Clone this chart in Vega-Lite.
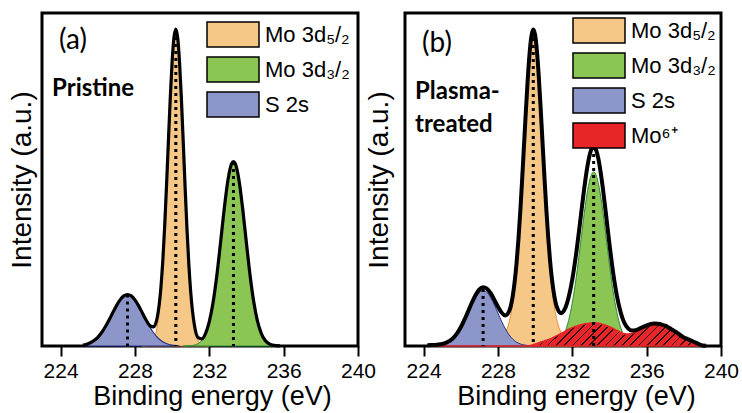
{
  "$schema": "https://vega.github.io/schema/vega-lite/v6.json",
  "padding": {"left": 6, "top": 11, "right": 2, "bottom": 0},
  "bounds": "flush",
  "spacing": 47,
  "background": "white",
  "datasets": {
    "a_o": [{"x":228.4,"y":0},{"x":228.6,"y":0.26},{"x":228.8,"y":1.38},{"x":229.0,"y":5.85},{"x":229.2,"y":19.78},{"x":229.4,"y":53.7},{"x":229.5,"y":81.3},{"x":229.6,"y":116.7},{"x":229.7,"y":158.3},{"x":229.8,"y":203.1},{"x":229.9,"y":246.6},{"x":230.0,"y":283.3},{"x":230.1,"y":307.9},{"x":230.2,"y":316.5},{"x":230.3,"y":307.9},{"x":230.4,"y":283.3},{"x":230.5,"y":246.6},{"x":230.6,"y":203.1},{"x":230.7,"y":158.3},{"x":230.8,"y":116.7},{"x":230.9,"y":81.3},{"x":231.0,"y":53.7},{"x":231.2,"y":19.78},{"x":231.4,"y":5.85},{"x":231.6,"y":1.38},{"x":231.8,"y":0.26},{"x":232.0,"y":0}],
    "a_g": [{"x":230.6,"y":0},{"x":230.8,"y":0.1},{"x":231.0,"y":0.32},{"x":231.2,"y":0.93},{"x":231.4,"y":2.42},{"x":231.6,"y":5.74},{"x":231.8,"y":12.4},{"x":232.0,"y":24.3},{"x":232.2,"y":43.23},{"x":232.4,"y":69.78},{"x":232.6,"y":102.5},{"x":232.8,"y":136.7},{"x":233.0,"y":165.6},{"x":233.2,"y":182.3},{"x":233.3,"y":184.5},{"x":233.4,"y":182.3},{"x":233.6,"y":165.6},{"x":233.8,"y":136.7},{"x":234.0,"y":102.5},{"x":234.2,"y":69.78},{"x":234.4,"y":43.23},{"x":234.6,"y":24.3},{"x":234.8,"y":12.4},{"x":235.0,"y":5.74},{"x":235.2,"y":2.42},{"x":235.4,"y":0.93},{"x":235.6,"y":0.32},{"x":235.8,"y":0}],
    "a_b": [{"x":225.4,"y":0},{"x":225.6,"y":3.22},{"x":225.8,"y":5.45},{"x":226.0,"y":8.73},{"x":226.2,"y":13.24},{"x":226.4,"y":18.98},{"x":226.6,"y":25.75},{"x":226.8,"y":33.05},{"x":227.0,"y":40.13},{"x":227.2,"y":46.09},{"x":227.4,"y":50.09},{"x":227.6,"y":51.5},{"x":227.8,"y":50.09},{"x":228.0,"y":46.09},{"x":228.2,"y":40.13},{"x":228.4,"y":33.05},{"x":228.6,"y":25.75},{"x":228.8,"y":18.98},{"x":229.0,"y":13.24},{"x":229.2,"y":8.73},{"x":229.4,"y":5.45},{"x":229.6,"y":3.22},{"x":229.8,"y":1.8},{"x":230.0,"y":0.95},{"x":230.2,"y":0.48},{"x":230.4,"y":0}],
    "a_env": [{"x":225.2,"y":0.95},{"x":225.4,"y":1.8},{"x":225.6,"y":3.22},{"x":225.8,"y":5.45},{"x":226.0,"y":8.73},{"x":226.2,"y":13.24},{"x":226.4,"y":18.98},{"x":226.6,"y":25.75},{"x":226.8,"y":33.05},{"x":227.0,"y":40.13},{"x":227.2,"y":46.09},{"x":227.4,"y":50.09},{"x":227.6,"y":51.5},{"x":227.8,"y":50.09},{"x":228.0,"y":46.09},{"x":228.2,"y":40.13},{"x":228.4,"y":33.09},{"x":228.6,"y":26.01},{"x":228.8,"y":20.36},{"x":229.0,"y":19.09},{"x":229.2,"y":28.51},{"x":229.4,"y":59.15},{"x":229.5,"y":85.5},{"x":229.6,"y":119.9},{"x":229.7,"y":160.7},{"x":229.8,"y":204.9},{"x":229.9,"y":247.9},{"x":230.0,"y":284.3},{"x":230.1,"y":308.6},{"x":230.2,"y":317.0},{"x":230.3,"y":308.2},{"x":230.4,"y":283.5},{"x":230.5,"y":246.8},{"x":230.6,"y":203.2},{"x":230.7,"y":158.4},{"x":230.8,"y":116.8},{"x":230.9,"y":81.5},{"x":231.0,"y":54.0},{"x":231.2,"y":20.7},{"x":231.4,"y":8.27},{"x":231.6,"y":7.12},{"x":231.8,"y":12.66},{"x":232.0,"y":24.34},{"x":232.2,"y":43.23},{"x":232.4,"y":69.78},{"x":232.6,"y":102.5},{"x":232.8,"y":136.7},{"x":233.0,"y":165.6},{"x":233.2,"y":182.3},{"x":233.3,"y":184.5},{"x":233.4,"y":182.3},{"x":233.6,"y":165.6},{"x":233.8,"y":136.7},{"x":234.0,"y":102.5},{"x":234.2,"y":69.78},{"x":234.4,"y":43.23},{"x":234.6,"y":24.3},{"x":234.8,"y":12.4},{"x":235.0,"y":5.74},{"x":235.2,"y":2.42},{"x":235.4,"y":0.93},{"x":235.6,"y":0.32},{"x":235.8,"y":0.1}],
    "a_pk": [{"x":227.6,"y":51.5},{"x":230.2,"y":316},{"x":233.3,"y":184}],
    "a_txt": [{"t":"(a)"}],
    "a_txt2": [{"t":"Pristine"}],
    "b_o": [{"x":227.4,"y":0},{"x":227.6,"y":4.3},{"x":227.8,"y":5.1},{"x":228.0,"y":6.4},{"x":228.2,"y":8.8},{"x":228.4,"y":13.5},{"x":228.6,"y":23.7},{"x":228.8,"y":43.6},{"x":229.0,"y":78.7},{"x":229.1,"y":103.1},{"x":229.2,"y":131.8},{"x":229.3,"y":164.3},{"x":229.4,"y":198.7},{"x":229.5,"y":233.3},{"x":229.6,"y":265.3},{"x":229.7,"y":291.5},{"x":229.8,"y":308.9},{"x":229.9,"y":315},{"x":230.0,"y":308.9},{"x":230.1,"y":291.5},{"x":230.2,"y":265.3},{"x":230.3,"y":233.3},{"x":230.4,"y":198.7},{"x":230.5,"y":164.3},{"x":230.6,"y":131.8},{"x":230.7,"y":103.1},{"x":230.8,"y":78.7},{"x":231.0,"y":43.6},{"x":231.2,"y":23.7},{"x":231.4,"y":13.5},{"x":231.6,"y":8.8},{"x":231.8,"y":6.4},{"x":232.0,"y":5.1},{"x":232.2,"y":4.3},{"x":232.4,"y":0}],
    "b_g": [{"x":230.6,"y":0},{"x":230.8,"y":0.5},{"x":231.0,"y":1.3},{"x":231.2,"y":3.1},{"x":231.4,"y":6.8},{"x":231.6,"y":13.7},{"x":231.8,"y":25.3},{"x":232.0,"y":43.1},{"x":232.2,"y":67.1},{"x":232.4,"y":96.1},{"x":232.6,"y":126.4},{"x":232.8,"y":152.9},{"x":233.0,"y":169.9},{"x":233.15,"y":174.0},{"x":233.2,"y":173.5},{"x":233.4,"y":162.9},{"x":233.6,"y":140.5},{"x":233.8,"y":111.4},{"x":234.0,"y":81.1},{"x":234.2,"y":54.2},{"x":234.4,"y":33.4},{"x":234.6,"y":18.9},{"x":234.8,"y":9.8},{"x":235.0,"y":4.7},{"x":235.2,"y":2.0},{"x":235.4,"y":0.8},{"x":235.6,"y":0.3},{"x":235.8,"y":0}],
    "b_b": [{"x":224.2,"y":0},{"x":224.4,"y":0.09},{"x":224.6,"y":0.22},{"x":224.8,"y":0.5},{"x":225.0,"y":1.05},{"x":225.2,"y":2.09},{"x":225.4,"y":3.91},{"x":225.6,"y":6.83},{"x":225.8,"y":11.1},{"x":226.0,"y":17.1},{"x":226.2,"y":24.5},{"x":226.4,"y":32.9},{"x":226.6,"y":41.3},{"x":226.8,"y":48.7},{"x":227.0,"y":53.7},{"x":227.2,"y":55.5},{"x":227.4,"y":53.7},{"x":227.6,"y":48.7},{"x":227.8,"y":41.3},{"x":228.0,"y":32.9},{"x":228.2,"y":24.5},{"x":228.4,"y":17.1},{"x":228.6,"y":11.1},{"x":228.8,"y":6.83},{"x":229.0,"y":3.91},{"x":229.2,"y":2.09},{"x":229.4,"y":1.05},{"x":229.6,"y":0.5},{"x":229.8,"y":0.22},{"x":230.0,"y":0}],
    "b_r": [{"x":224.4,"y":0},{"x":229.6,"y":0},{"x":229.8,"y":0.7},{"x":230.0,"y":2.1},{"x":230.2,"y":3.3},{"x":230.4,"y":4.5},{"x":230.6,"y":5.7},{"x":230.8,"y":7.0},{"x":231.0,"y":8.8},{"x":231.2,"y":10.6},{"x":231.4,"y":12.5},{"x":231.6,"y":14.6},{"x":231.8,"y":16.8},{"x":232.0,"y":18.4},{"x":232.2,"y":19.8},{"x":232.4,"y":21.1},{"x":232.6,"y":21.9},{"x":232.8,"y":22.5},{"x":233.0,"y":23.0},{"x":233.2,"y":23.3},{"x":233.4,"y":22.8},{"x":233.6,"y":21.9},{"x":233.8,"y":20.8},{"x":234.0,"y":19.3},{"x":234.2,"y":17.5},{"x":234.4,"y":15.5},{"x":234.6,"y":13.8},{"x":234.8,"y":12.3},{"x":235.0,"y":12.1},{"x":235.2,"y":12.5},{"x":235.4,"y":14.0},{"x":235.6,"y":16.1},{"x":235.8,"y":18.2},{"x":236.0,"y":19.9},{"x":236.2,"y":21.2},{"x":236.4,"y":22.0},{"x":236.6,"y":21.7},{"x":236.8,"y":20.9},{"x":237.0,"y":19.8},{"x":237.2,"y":17.7},{"x":237.4,"y":15.5},{"x":237.6,"y":13.3},{"x":237.8,"y":10.6},{"x":238.0,"y":8.2},{"x":238.2,"y":6.6},{"x":238.4,"y":4.9},{"x":238.6,"y":3.3},{"x":238.8,"y":1.5},{"x":239.0,"y":0}],
    "b_env": [{"x":224.2,"y":0.8},{"x":224.4,"y":0.9},{"x":224.6,"y":1.1},{"x":224.8,"y":1.45},{"x":225.0,"y":2.05},{"x":225.2,"y":3.2},{"x":225.4,"y":5.1},{"x":225.6,"y":8.1},{"x":225.8,"y":12.6},{"x":226.0,"y":18.7},{"x":226.2,"y":26.3},{"x":226.4,"y":34.9},{"x":226.6,"y":43.5},{"x":226.8,"y":51.1},{"x":227.0,"y":56.5},{"x":227.2,"y":58.7},{"x":227.4,"y":57.3},{"x":227.6,"y":53.0},{"x":227.8,"y":46.4},{"x":228.0,"y":39.3},{"x":228.2,"y":33.3},{"x":228.4,"y":30.6},{"x":228.6,"y":34.8},{"x":228.8,"y":50.4},{"x":229.0,"y":82.6},{"x":229.1,"y":106.0},{"x":229.2,"y":133.9},{"x":229.3,"y":165.8},{"x":229.4,"y":199.8},{"x":229.5,"y":234.0},{"x":229.6,"y":265.8},{"x":229.7,"y":292.2},{"x":229.8,"y":309.8},{"x":229.9,"y":316.5},{"x":230.0,"y":311.1},{"x":230.1,"y":294.3},{"x":230.2,"y":268.6},{"x":230.3,"y":237.2},{"x":230.4,"y":203.2},{"x":230.5,"y":169.4},{"x":230.6,"y":137.7},{"x":230.7,"y":109.7},{"x":230.8,"y":86.2},{"x":231.0,"y":53.8},{"x":231.2,"y":37.4},{"x":231.4,"y":32.8},{"x":231.6,"y":37.1},{"x":231.8,"y":48.5},{"x":232.0,"y":66.6},{"x":232.2,"y":91.2},{"x":232.4,"y":120.8},{"x":232.6,"y":151.4},{"x":232.8,"y":178.1},{"x":233.0,"y":195.3},{"x":233.15,"y":199.5},{"x":233.2,"y":198.9},{"x":233.4,"y":187.6},{"x":233.6,"y":164.1},{"x":233.8,"y":133.7},{"x":234.0,"y":101.8},{"x":234.2,"y":73.0},{"x":234.4,"y":50.1},{"x":234.6,"y":33.8},{"x":234.8,"y":23.1},{"x":235.0,"y":17.7},{"x":235.2,"y":15.5},{"x":235.4,"y":15.7},{"x":235.6,"y":17.2},{"x":235.8,"y":19.0},{"x":236.0,"y":20.6},{"x":236.2,"y":21.9},{"x":236.4,"y":22.6},{"x":236.6,"y":22.3},{"x":236.8,"y":21.5},{"x":237.0,"y":20.3},{"x":237.2,"y":18.2},{"x":237.4,"y":16.0},{"x":237.6,"y":13.8},{"x":237.8,"y":11.0},{"x":238.0,"y":8.6},{"x":238.2,"y":7.0},{"x":238.4,"y":5.3},{"x":238.6,"y":3.7},{"x":238.8,"y":2.0},{"x":239.0,"y":0.4},{"x":239.2,"y":0.2}],
    "b_pk": [{"x":227.2,"y":57},{"x":229.9,"y":315},{"x":233.15,"y":199}],
    "b_txt": [{"t":"(b)"}],
    "b_txt2": [{"t":"Plasma-"}],
    "b_txt3": [{"t":"treated"}]
  },
  "hconcat": [
    {
      "width": 316,
      "height": 333,
      "layer": [
        {
          "encoding": {
            "x": {"field": "x", "type": "quantitative", "scale": {"domain": [223, 240], "nice": false, "zero": false},
                  "axis": {"title": "Binding energy (eV)", "values": [224, 228, 232, 236, 240], "titleX": 170}},
            "y": {"field": "y", "type": "quantitative", "scale": {"domain": [0, 333], "nice": false, "zero": false},
                  "axis": {"title": "Intensity (a.u.)", "labels": false, "ticks": false, "domain": false, "titlePadding": 6, "titleFontSize": 28}}
          },
          "layer": [
            {"data": {"name": "a_o"}, "mark": {"type": "area", "interpolate": "monotone", "stroke": "#EE8A2C", "strokeWidth": 1},
             "encoding": {"fill": {"datum": "Mo 3d₅/₂", "type": "nominal",
               "scale": {"domain": ["Mo 3d₅/₂", "Mo 3d₃/₂", "S 2s"], "range": ["#F6C887", "#8BC553", "#8D96C8"]},
               "legend": {"title": null, "orient": "none", "legendX": 177, "legendY": 7.5, "padding": 0,
                 "symbolType": "M-2,-0.96H2V0.96H-2Z", "symbolSize": 676, "symbolStrokeColor": "black", "symbolStrokeWidth": 1.5,
                 "labelFont": "Liberation Sans", "labelFontSize": 22, "labelColor": "black", "labelOffset": 18, "labelLimit": 0, "rowPadding": 3,
                 "encode": {"symbols": {"update": {"stroke": {"value": "black"}, "strokeWidth": {"value": 1.5}, "opacity": {"value": 1}}}}}}}},
            {"data": {"name": "a_g"}, "mark": {"type": "area", "interpolate": "monotone", "stroke": "#2E8B3A", "strokeWidth": 1},
             "encoding": {"fill": {"datum": "Mo 3d₃/₂", "type": "nominal"}}},
            {"data": {"name": "a_b"}, "mark": {"type": "area", "interpolate": "monotone", "stroke": "#2A2F86", "strokeWidth": 1.2},
             "encoding": {"fill": {"datum": "S 2s", "type": "nominal"}}},
            {"data": {"name": "a_pk"}, "mark": {"type": "rule", "color": "black", "strokeWidth": 3, "strokeDash": [3, 4]},
             "encoding": {"y2": {"datum": 0}}},
            {"data": {"name": "a_env"}, "mark": {"type": "line", "interpolate": "monotone", "color": "black", "strokeWidth": 3.2},
             "encoding": {}}
          ]
        },
        {"data": {"name": "a_txt"}, "mark": {"type": "text", "align": "left", "baseline": "middle", "font": "Lato", "fontSize": 28, "fill": "black"},
         "encoding": {"x": {"datum": 223.92, "type": "quantitative"}, "y": {"datum": 305, "type": "quantitative"}, "text": {"field": "t", "type": "nominal"}}},
        {"data": {"name": "a_txt2"}, "mark": {"type": "text", "align": "left", "baseline": "middle", "font": "Lato", "fontWeight": "bold", "fontSize": 24, "fill": "black"},
         "encoding": {"x": {"datum": 223.54, "type": "quantitative"}, "y": {"datum": 257, "type": "quantitative"}, "text": {"field": "t", "type": "nominal"}}}
      ]
    },
    {
      "width": 316,
      "height": 333,
      "layer": [
        {
          "encoding": {
            "x": {"field": "x", "type": "quantitative", "scale": {"domain": [223, 240], "nice": false, "zero": false},
                  "axis": {"title": "Binding energy (eV)", "values": [224, 228, 232, 236, 240], "titleX": 171}},
            "y": {"field": "y", "type": "quantitative", "scale": {"domain": [0, 333], "nice": false, "zero": false},
                  "axis": {"title": "Intensity (a.u.)", "labels": false, "ticks": false, "domain": false, "titlePadding": 12, "titleFontSize": 28}}
          },
          "layer": [
            {"data": {"name": "b_o"}, "mark": {"type": "area", "interpolate": "monotone", "stroke": "#EE8A2C", "strokeWidth": 1},
             "encoding": {"fill": {"datum": "Mo 3d₅/₂", "type": "nominal",
               "scale": {"domain": ["Mo 3d₅/₂", "Mo 3d₃/₂", "S 2s", "Mo⁶⁺"], "range": ["#F6C887", "#8BC553", "#8D96C8", "#E8262A"]},
               "legend": {"title": null, "orient": "none", "legendX": 180, "legendY": 3.5, "padding": 0,
                 "symbolType": "M-2,-0.96H2V0.96H-2Z", "symbolSize": 676, "symbolStrokeColor": "black", "symbolStrokeWidth": 1.5,
                 "labelFont": "Liberation Sans", "labelFontSize": 22, "labelColor": "black", "labelOffset": 18, "labelLimit": 0, "rowPadding": 3,
                 "encode": {"symbols": {"update": {"stroke": {"value": "black"}, "strokeWidth": {"value": 1.5}, "opacity": {"value": 1}}}}}}}},
            {"data": {"name": "b_g"}, "mark": {"type": "area", "interpolate": "monotone", "stroke": "#2E8B3A", "strokeWidth": 1},
             "encoding": {"fill": {"datum": "Mo 3d₃/₂", "type": "nominal"}}},
            {"data": {"name": "b_b"}, "mark": {"type": "area", "interpolate": "monotone", "stroke": "#2A2F86", "strokeWidth": 1},
             "encoding": {"fill": {"datum": "S 2s", "type": "nominal"}}},
            {"data": {"name": "b_r"}, "mark": {"type": "area", "interpolate": "monotone", "stroke": "#E8262A", "strokeWidth": 1.5,
               "fill": {"gradient": "linear", "x1": 0, "y1": 0, "x2": 1.078, "y2": 0.0926, "stops": [
                 {"offset":0,"color":"#E8262A"},
                 {"offset":0.0225,"color":"#E8262A"},{"offset":0.0225,"color":"#301010"},{"offset":0.028,"color":"#301010"},{"offset":0.028,"color":"#E8262A"},
                 {"offset":0.0505,"color":"#E8262A"},{"offset":0.0505,"color":"#301010"},{"offset":0.056,"color":"#301010"},{"offset":0.056,"color":"#E8262A"},
                 {"offset":0.0785,"color":"#E8262A"},{"offset":0.0785,"color":"#301010"},{"offset":0.084,"color":"#301010"},{"offset":0.084,"color":"#E8262A"},
                 {"offset":0.1065,"color":"#E8262A"},{"offset":0.1065,"color":"#301010"},{"offset":0.112,"color":"#301010"},{"offset":0.112,"color":"#E8262A"},
                 {"offset":0.1345,"color":"#E8262A"},{"offset":0.1345,"color":"#301010"},{"offset":0.14,"color":"#301010"},{"offset":0.14,"color":"#E8262A"},
                 {"offset":0.1625,"color":"#E8262A"},{"offset":0.1625,"color":"#301010"},{"offset":0.168,"color":"#301010"},{"offset":0.168,"color":"#E8262A"},
                 {"offset":0.1905,"color":"#E8262A"},{"offset":0.1905,"color":"#301010"},{"offset":0.196,"color":"#301010"},{"offset":0.196,"color":"#E8262A"},
                 {"offset":0.2185,"color":"#E8262A"},{"offset":0.2185,"color":"#301010"},{"offset":0.224,"color":"#301010"},{"offset":0.224,"color":"#E8262A"},
                 {"offset":0.2465,"color":"#E8262A"},{"offset":0.2465,"color":"#301010"},{"offset":0.252,"color":"#301010"},{"offset":0.252,"color":"#E8262A"},
                 {"offset":0.2745,"color":"#E8262A"},{"offset":0.2745,"color":"#301010"},{"offset":0.28,"color":"#301010"},{"offset":0.28,"color":"#E8262A"},
                 {"offset":0.3025,"color":"#E8262A"},{"offset":0.3025,"color":"#301010"},{"offset":0.308,"color":"#301010"},{"offset":0.308,"color":"#E8262A"},
                 {"offset":0.3305,"color":"#E8262A"},{"offset":0.3305,"color":"#301010"},{"offset":0.336,"color":"#301010"},{"offset":0.336,"color":"#E8262A"},
                 {"offset":0.3585,"color":"#E8262A"},{"offset":0.3585,"color":"#301010"},{"offset":0.364,"color":"#301010"},{"offset":0.364,"color":"#E8262A"},
                 {"offset":0.3865,"color":"#E8262A"},{"offset":0.3865,"color":"#301010"},{"offset":0.392,"color":"#301010"},{"offset":0.392,"color":"#E8262A"},
                 {"offset":0.4145,"color":"#E8262A"},{"offset":0.4145,"color":"#301010"},{"offset":0.42,"color":"#301010"},{"offset":0.42,"color":"#E8262A"},
                 {"offset":0.4425,"color":"#E8262A"},{"offset":0.4425,"color":"#301010"},{"offset":0.448,"color":"#301010"},{"offset":0.448,"color":"#E8262A"},
                 {"offset":0.4705,"color":"#E8262A"},{"offset":0.4705,"color":"#301010"},{"offset":0.476,"color":"#301010"},{"offset":0.476,"color":"#E8262A"},
                 {"offset":0.4985,"color":"#E8262A"},{"offset":0.4985,"color":"#301010"},{"offset":0.504,"color":"#301010"},{"offset":0.504,"color":"#E8262A"},
                 {"offset":0.5265,"color":"#E8262A"},{"offset":0.5265,"color":"#301010"},{"offset":0.532,"color":"#301010"},{"offset":0.532,"color":"#E8262A"},
                 {"offset":0.5545,"color":"#E8262A"},{"offset":0.5545,"color":"#301010"},{"offset":0.56,"color":"#301010"},{"offset":0.56,"color":"#E8262A"},
                 {"offset":0.5825,"color":"#E8262A"},{"offset":0.5825,"color":"#301010"},{"offset":0.588,"color":"#301010"},{"offset":0.588,"color":"#E8262A"},
                 {"offset":0.6105,"color":"#E8262A"},{"offset":0.6105,"color":"#301010"},{"offset":0.616,"color":"#301010"},{"offset":0.616,"color":"#E8262A"},
                 {"offset":0.6385,"color":"#E8262A"},{"offset":0.6385,"color":"#301010"},{"offset":0.644,"color":"#301010"},{"offset":0.644,"color":"#E8262A"},
                 {"offset":0.6665,"color":"#E8262A"},{"offset":0.6665,"color":"#301010"},{"offset":0.672,"color":"#301010"},{"offset":0.672,"color":"#E8262A"},
                 {"offset":0.6945,"color":"#E8262A"},{"offset":0.6945,"color":"#301010"},{"offset":0.7,"color":"#301010"},{"offset":0.7,"color":"#E8262A"},
                 {"offset":0.7225,"color":"#E8262A"},{"offset":0.7225,"color":"#301010"},{"offset":0.728,"color":"#301010"},{"offset":0.728,"color":"#E8262A"},
                 {"offset":0.7505,"color":"#E8262A"},{"offset":0.7505,"color":"#301010"},{"offset":0.756,"color":"#301010"},{"offset":0.756,"color":"#E8262A"},
                 {"offset":0.7785,"color":"#E8262A"},{"offset":0.7785,"color":"#301010"},{"offset":0.784,"color":"#301010"},{"offset":0.784,"color":"#E8262A"},
                 {"offset":0.8065,"color":"#E8262A"},{"offset":0.8065,"color":"#301010"},{"offset":0.812,"color":"#301010"},{"offset":0.812,"color":"#E8262A"},
                 {"offset":0.8345,"color":"#E8262A"},{"offset":0.8345,"color":"#301010"},{"offset":0.84,"color":"#301010"},{"offset":0.84,"color":"#E8262A"},
                 {"offset":0.8625,"color":"#E8262A"},{"offset":0.8625,"color":"#301010"},{"offset":0.868,"color":"#301010"},{"offset":0.868,"color":"#E8262A"},
                 {"offset":0.8905,"color":"#E8262A"},{"offset":0.8905,"color":"#301010"},{"offset":0.896,"color":"#301010"},{"offset":0.896,"color":"#E8262A"},
                 {"offset":0.9185,"color":"#E8262A"},{"offset":0.9185,"color":"#301010"},{"offset":0.924,"color":"#301010"},{"offset":0.924,"color":"#E8262A"},
                 {"offset":0.9465,"color":"#E8262A"},{"offset":0.9465,"color":"#301010"},{"offset":0.952,"color":"#301010"},{"offset":0.952,"color":"#E8262A"},
                 {"offset":0.9745,"color":"#E8262A"},{"offset":0.9745,"color":"#301010"},{"offset":0.98,"color":"#301010"},{"offset":0.98,"color":"#E8262A"},
                 {"offset":1,"color":"#E8262A"}]}},
             "encoding": {}},
            {"data": {"name": "b_pk"}, "mark": {"type": "rule", "color": "black", "strokeWidth": 3, "strokeDash": [3, 4]},
             "encoding": {"y2": {"datum": 0}}},
            {"data": {"name": "b_env"}, "mark": {"type": "line", "interpolate": "monotone", "color": "black", "strokeWidth": 4},
             "encoding": {}}
          ]
        },
        {"data": {"name": "b_txt"}, "mark": {"type": "text", "align": "left", "baseline": "middle", "font": "Lato", "fontSize": 28, "fill": "black"},
         "encoding": {"x": {"datum": 223.92, "type": "quantitative"}, "y": {"datum": 302, "type": "quantitative"}, "text": {"field": "t", "type": "nominal"}}},
        {"data": {"name": "b_txt2"}, "mark": {"type": "text", "align": "left", "baseline": "middle", "font": "Lato", "fontWeight": "bold", "fontSize": 24, "fill": "black"},
         "encoding": {"x": {"datum": 223.54, "type": "quantitative"}, "y": {"datum": 254, "type": "quantitative"}, "text": {"field": "t", "type": "nominal"}}},
        {"data": {"name": "b_txt3"}, "mark": {"type": "text", "align": "left", "baseline": "middle", "font": "Lato", "fontWeight": "bold", "fontSize": 24, "fill": "black"},
         "encoding": {"x": {"datum": 223.54, "type": "quantitative"}, "y": {"datum": 221.5, "type": "quantitative"}, "text": {"field": "t", "type": "nominal"}}}
      ]
    }
  ],
  "resolve": {"scale": {"fill": "independent"}, "legend": {"fill": "independent"}},
  "config": {
    "view": {"stroke": "black", "strokeWidth": 3},
    "axis": {"grid": false, "domain": false, "labelFont": "Liberation Sans", "titleFont": "Liberation Sans", "labelColor": "black", "titleColor": "black", "titleFontWeight": "normal"},
    "axisX": {"labelFontSize": 21, "labelFlush": false, "labelOverlap": false, "tickColor": "black", "tickWidth": 2, "tickSize": 10, "labelPadding": 4, "titleFontSize": 27, "titlePadding": 2}
  }
}
